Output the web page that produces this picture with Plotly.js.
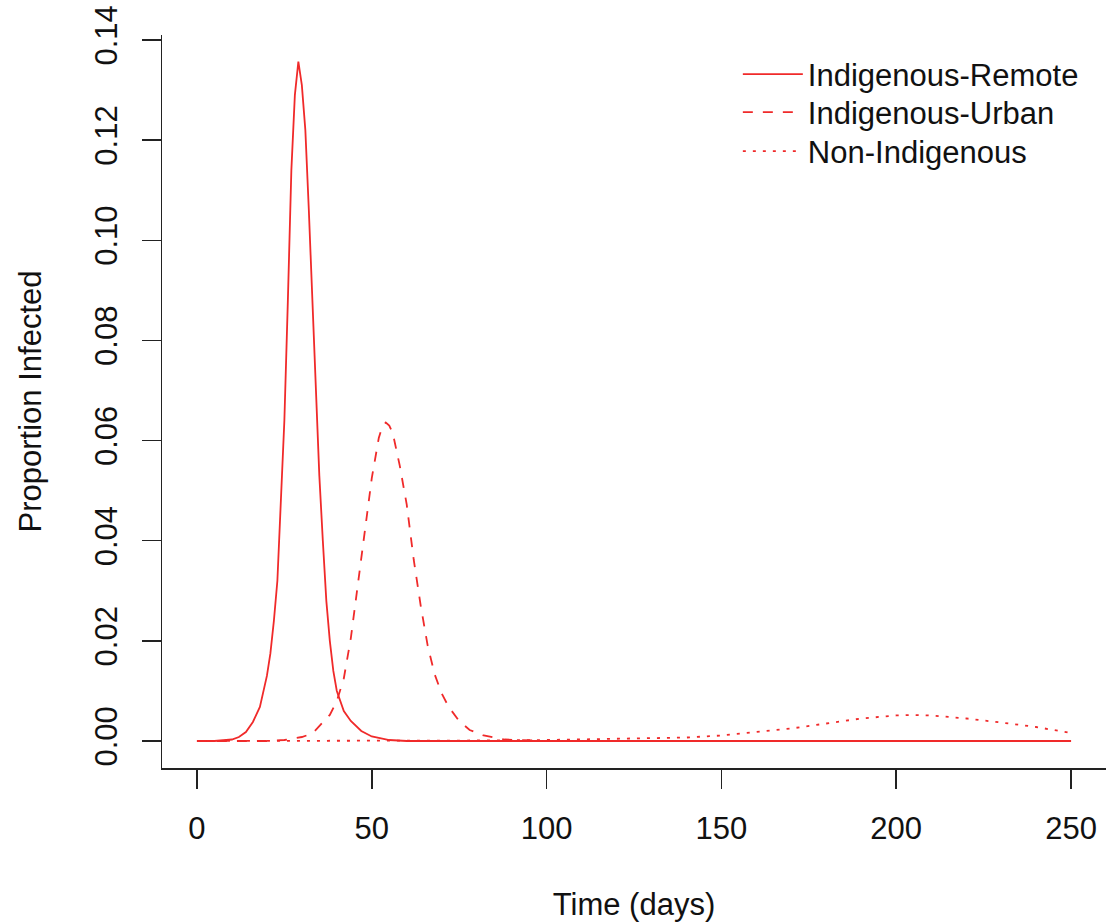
<!DOCTYPE html>
<html>
<head>
<meta charset="utf-8">
<script src="https://cdn.plot.ly/plotly-3.0.1.min.js"></script>
<style>
html,body{margin:0;padding:0;background:#fff;}
#chart{width:1106px;height:922px;}
</style>
</head>
<body>
<div id="chart"></div>
<script>
// Indigenous-Remote (solid)
const remoteX = [0, 5, 10, 12, 14, 16, 18, 20, 21, 22, 23, 24, 25, 26, 27, 28, 29, 30, 31, 32, 33, 34, 35, 36, 37, 38, 39, 40, 42, 44, 47, 50, 55, 60, 100, 150, 200, 250];
const remoteY = [0, 0, 0.0003, 0.0008, 0.0018, 0.0038, 0.0068, 0.0130, 0.0175, 0.0240, 0.0320, 0.0470, 0.0640, 0.0880, 0.1140, 0.1290, 0.1357, 0.1310, 0.1220, 0.1060, 0.0870, 0.0700, 0.0530, 0.0400, 0.0280, 0.0200, 0.0140, 0.0100, 0.0060, 0.0040, 0.0020, 0.0009, 0.0002, 0, 0, 0, 0, 0];

// Indigenous-Urban (dashed)
const urbanX = [0, 20, 25, 28, 30, 33, 35, 38, 40, 42, 44, 46, 48, 50, 52, 53, 54, 55, 56, 58, 60, 62, 64, 66, 68, 70, 72, 75, 78, 82, 88, 95, 100, 150, 200, 250];
const urbanY = [0, 0, 0.0002, 0.0005, 0.0008, 0.0015, 0.0030, 0.0052, 0.0080, 0.0125, 0.0205, 0.0315, 0.0420, 0.0525, 0.0605, 0.0628, 0.0636, 0.0630, 0.0615, 0.0550, 0.0472, 0.0362, 0.0270, 0.0190, 0.0133, 0.0095, 0.0068, 0.0040, 0.0022, 0.0011, 0.0003, 0.0001, 0, 0, 0, 0];

// Non-Indigenous (dotted)
const nonX = [0, 50, 80, 100, 120, 140, 150, 160, 170, 180, 190, 200, 205, 210, 220, 230, 240, 250];
const nonY = [0, 0.00002, 0.0001, 0.0002, 0.0004, 0.0007, 0.0011, 0.0018, 0.0025, 0.0035, 0.0045, 0.0051, 0.0052, 0.0051, 0.0045, 0.0037, 0.0028, 0.0016];

const seriesNames = ['Indigenous-Remote', 'Indigenous-Urban', 'Non-Indigenous'];
const xTicks = [0, 50, 100, 150, 200, 250];
const yTicks = [0, 0.02, 0.04, 0.06, 0.08, 0.10, 0.12, 0.14];
const yTickText = ['0.00', '0.02', '0.04', '0.06', '0.08', '0.10', '0.12', '0.14'];

const RED = '#f02a2a';
const FONT = 'Liberation Sans, Arial, Helvetica, sans-serif';
const FS = 31;

const traces = [
  {x: remoteX, y: remoteY, name: seriesNames[0], mode: 'lines', legend: 'legend',
   line: {color: RED, width: 1.8, dash: 'solid'}},
  {x: urbanX, y: urbanY, name: seriesNames[1], mode: 'lines', legend: 'legend2',
   line: {color: RED, width: 1.8, dash: '10px,10px'}},
  {x: nonX, y: nonY, name: seriesNames[2], mode: 'lines', legend: 'legend3',
   line: {color: RED, width: 1.8, dash: '3px,7px'}}
];

function leg(y) {
  return {x: 0.610, xanchor: 'left', y: y, yanchor: 'middle', bgcolor: 'rgba(0,0,0,0)',
          borderwidth: 0, itemwidth: 60, font: {family: FONT, size: FS, color: '#111'}};
}

const layout = {
  width: 1106, height: 922,
  margin: {l: 162, r: 0, t: 35, b: 154, pad: 0},
  paper_bgcolor: '#fff', plot_bgcolor: '#fff',
  font: {family: FONT, size: FS, color: '#111'},
  showlegend: true,
  legend: leg(0.9461),
  legend2: leg(0.8943),
  legend3: leg(0.8412),
  xaxis: {
    range: [-10, 260], tickvals: xTicks, ticks: 'outside', ticklen: 19, tickwidth: 1.5,
    tickcolor: '#222', showline: true, linecolor: '#222', linewidth: 1.5, mirror: false,
    showgrid: false, zeroline: false, automargin: false, ticklabelstandoff: 13,
    tickfont: {family: FONT, size: FS, color: '#111'},
    title: {text: 'Time (days)', font: {family: FONT, size: FS, color: '#111'}, standoff: 48}
  },
  yaxis: {
    range: [-0.00539, 0.141], tickvals: yTicks, ticktext: yTickText, tickangle: -90,
    ticks: 'outside', ticklen: 19, tickwidth: 1.5, tickcolor: '#222',
    showline: true, linecolor: '#222', linewidth: 1.5, mirror: false,
    showgrid: false, zeroline: false, automargin: false, ticklabelstandoff: 12,
    tickfont: {family: FONT, size: FS, color: '#111'},
    title: {text: 'Proportion Infected', font: {family: FONT, size: FS, color: '#111'}, standoff: 38}
  }
};

Plotly.newPlot('chart', traces, layout, {displayModeBar: false, staticPlot: true});
</script>
</body>
</html>
